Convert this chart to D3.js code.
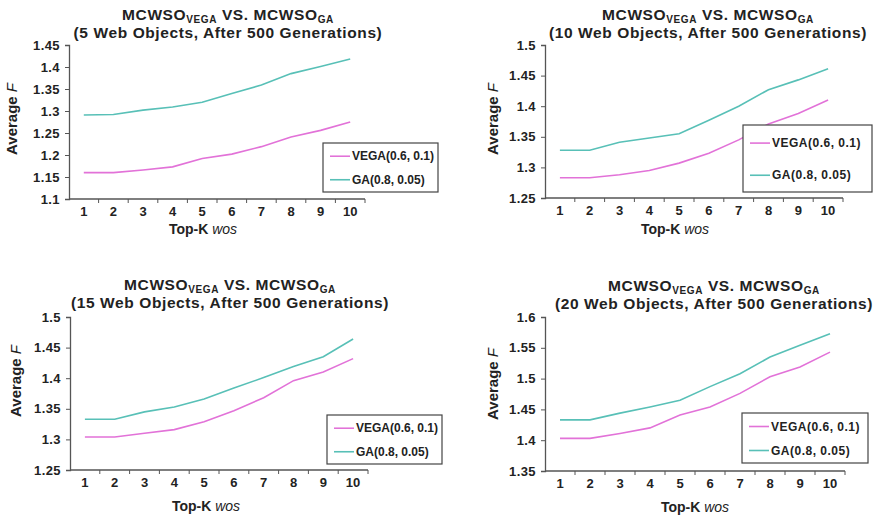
<!DOCTYPE html>
<html>
<head>
<meta charset="utf-8">
<script src="https://cdn.jsdelivr.net/npm/d3@7"></script>
<style>
  body { margin: 0; background: #fff; }
  svg text { font-family: "Liberation Sans", Arial, sans-serif; fill: #222; }
</style>
</head>
<body>
<div id="chart"></div>
<script>
// Four small panels: MCWSO_VEGA vs MCWSO_GA, average fitness over Top-K web objects

const topK = [1, 2, 3, 4, 5, 6, 7, 8, 9, 10];
const seriesNames = ["VEGA(0.6, 0.1)", "GA(0.8, 0.05)"];
const webObjects = [5, 10, 15, 20];

const vega5  = [1.160, 1.160, 1.166, 1.173, 1.192, 1.202, 1.219, 1.241, 1.256, 1.275];
const ga5    = [1.291, 1.292, 1.302, 1.309, 1.320, 1.340, 1.359, 1.385, 1.401, 1.418];
const vega10 = [1.283, 1.283, 1.288, 1.295, 1.307, 1.323, 1.345, 1.371, 1.388, 1.410];
const ga10   = [1.328, 1.328, 1.341, 1.348, 1.355, 1.377, 1.400, 1.427, 1.443, 1.461];
const vega15 = [1.304, 1.304, 1.310, 1.316, 1.329, 1.347, 1.368, 1.396, 1.410, 1.432];
const ga15   = [1.333, 1.333, 1.345, 1.353, 1.366, 1.384, 1.401, 1.419, 1.435, 1.464];
const vega20 = [1.403, 1.403, 1.411, 1.420, 1.441, 1.454, 1.476, 1.503, 1.519, 1.543];
const ga20   = [1.433, 1.433, 1.444, 1.454, 1.465, 1.487, 1.508, 1.535, 1.554, 1.573];

const yTicks5  = [1.1, 1.15, 1.2, 1.25, 1.3, 1.35, 1.4, 1.45];
const yTicks10 = [1.25, 1.3, 1.35, 1.4, 1.45, 1.5];
const yTicks15 = [1.25, 1.3, 1.35, 1.4, 1.45, 1.5];
const yTicks20 = [1.35, 1.4, 1.45, 1.5, 1.55, 1.6];

const colors = ["#e272d8", "#58c0b7"];                           // VEGA pink, GA teal

const svg = d3.select("#chart").append("svg")
  .attr("width", 878).attr("height", 518);

// layout per panel (plot box, title, labels, legend box)
const panels = [
  { n: webObjects[0], series: [vega5, ga5],   ticks: yTicks5,
    left: 69,  right: 365, top: 45,  bottom: 199, titleX: 228, titleY: 20,
    xLabX: 203, xLabY: 234, yLabX: 17,  yLabY: 119, leg: [323, 143, 115, 49] },
  { n: webObjects[1], series: [vega10, ga10], ticks: yTicks10,
    left: 545, right: 843, top: 45,  bottom: 198, titleX: 708, titleY: 20,
    xLabX: 675, xLabY: 234, yLabX: 498, yLabY: 119, leg: [743, 125, 129, 67] },
  { n: webObjects[2], series: [vega15, ga15], ticks: yTicks15,
    left: 70,  right: 368, top: 317, bottom: 470, titleX: 230, titleY: 290,
    xLabX: 206, xLabY: 511, yLabX: 21,  yLabY: 381, leg: [327, 415, 115, 49] },
  { n: webObjects[3], series: [vega20, ga20], ticks: yTicks20,
    left: 545, right: 845, top: 317, bottom: 471, titleX: 714, titleY: 291,
    xLabX: 695, xLabY: 512, yLabX: 498, yLabY: 384, leg: [742, 413, 126, 50] }
];

panels.forEach(drawPanel);

function drawPanel(p)
{
  const g = svg.append("g");

  const x = d3.scaleBand()
    .domain(topK)
    .range([p.left, p.right]);

  const y = d3.scaleLinear()
    .domain(d3.extent(p.ticks))
    .range([p.bottom, p.top]);

  // --- Y axis ---
  const yAxis = g.append("g")
    .attr("transform", "translate(" + p.left + ",0)")
    .call(d3.axisLeft(y).tickValues(p.ticks).tickSize(4).tickPadding(5)
      .tickFormat(d => +d.toFixed(2)));
  yAxis.select(".domain").attr("stroke", "#555").attr("stroke-width", 1.3);
  yAxis.selectAll(".tick line").attr("stroke", "#555");
  yAxis.selectAll(".tick text")
    .style("font-size", "13px").style("font-weight", "bold")
    .style("letter-spacing", "0.4px").attr("fill", "#222");

  // --- X axis: ticks at band boundaries, labels at centres ---
  const xAxis = g.append("g")
    .attr("transform", "translate(0," + p.bottom + ")");
  xAxis.append("line")
    .attr("x1", p.left).attr("x2", p.right)
    .attr("stroke", "#555").attr("stroke-width", 1.3);
  xAxis.selectAll(".bt")
    .data(topK.slice(1).concat(["end"]))
    .enter().append("line")
    .attr("x1", d => d === "end" ? p.right : x(d))
    .attr("x2", d => d === "end" ? p.right : x(d))
    .attr("y1", 0).attr("y2", 4)
    .attr("stroke", "#555");
  xAxis.selectAll(".lab")
    .data(topK)
    .enter().append("text")
    .attr("x", d => x(d) + x.bandwidth() / 2)
    .attr("y", 17)
    .attr("text-anchor", "middle")
    .style("font-size", "13px").style("font-weight", "bold")
    .text(d => d);

  // --- Lines ---
  p.series.forEach((vals, i) => {
    const line = d3.line()
      .x((d, j) => x(topK[j]) + x.bandwidth() / 2)
      .y(d => y(d));
    g.append("path")
      .datum(vals)
      .attr("d", line)
      .attr("fill", "none")
      .attr("stroke", colors[i])
      .attr("stroke-width", 1.6);
  });

  // --- Title ---
  const t1 = g.append("text")
    .attr("x", p.titleX).attr("y", p.titleY)
    .attr("text-anchor", "middle")
    .style("font-size", "15.5px").style("font-weight", "bold")
    .style("letter-spacing", "0.6px");
  t1.append("tspan").text("MCWSO");
  t1.append("tspan").attr("dy", 3).style("font-size", "10px").text("VEGA");
  t1.append("tspan").attr("dy", -3).text(" VS. MCWSO");
  t1.append("tspan").attr("dy", 3).style("font-size", "10px").text("GA");

  g.append("text")
    .attr("x", p.titleX).attr("y", p.titleY + 18)
    .attr("text-anchor", "middle")
    .style("font-size", "15.5px").style("font-weight", "bold")
    .style("letter-spacing", "0.6px")
    .text("(" + p.n + " Web Objects, After 500 Generations)");

  // --- Axis titles ---
  const xl = g.append("text")
    .attr("x", p.xLabX).attr("y", p.xLabY)
    .attr("text-anchor", "middle")
    .style("font-size", "14px");
  xl.append("tspan").style("font-weight", "bold").text("Top-K ");
  xl.append("tspan").style("font-style", "italic").text("wos");

  const yl = g.append("text")
    .attr("transform", "translate(" + p.yLabX + "," + p.yLabY + ") rotate(-90)")
    .attr("text-anchor", "middle")
    .style("font-size", "15px");
  yl.append("tspan").style("font-weight", "bold").text("Average ");
  yl.append("tspan").style("font-style", "italic").text("F");

  // --- Legend ---
  const [lx, ly, lw, lh] = p.leg;
  const spacing = lw > 120 ? "0.5px" : "0px";                    // wider boxes get looser text
  const leg = g.append("g").attr("transform", "translate(" + lx + "," + ly + ")");
  leg.append("rect")
    .attr("width", lw).attr("height", lh)
    .attr("fill", "#fff").attr("stroke", "#444").attr("stroke-width", 1.2);
  seriesNames.forEach((name, i) => {
    const cy = lh * (0.27 + i * 0.48);
    leg.append("line")
      .attr("x1", 7).attr("x2", 27).attr("y1", cy).attr("y2", cy)
      .attr("stroke", colors[i]).attr("stroke-width", 1.6);
    leg.append("text")
      .attr("x", 29).attr("y", cy + 4)
      .style("font-size", "12px").style("font-weight", "bold")
      .style("letter-spacing", spacing)
      .text(name);
  });
}
</script>
</body>
</html>
